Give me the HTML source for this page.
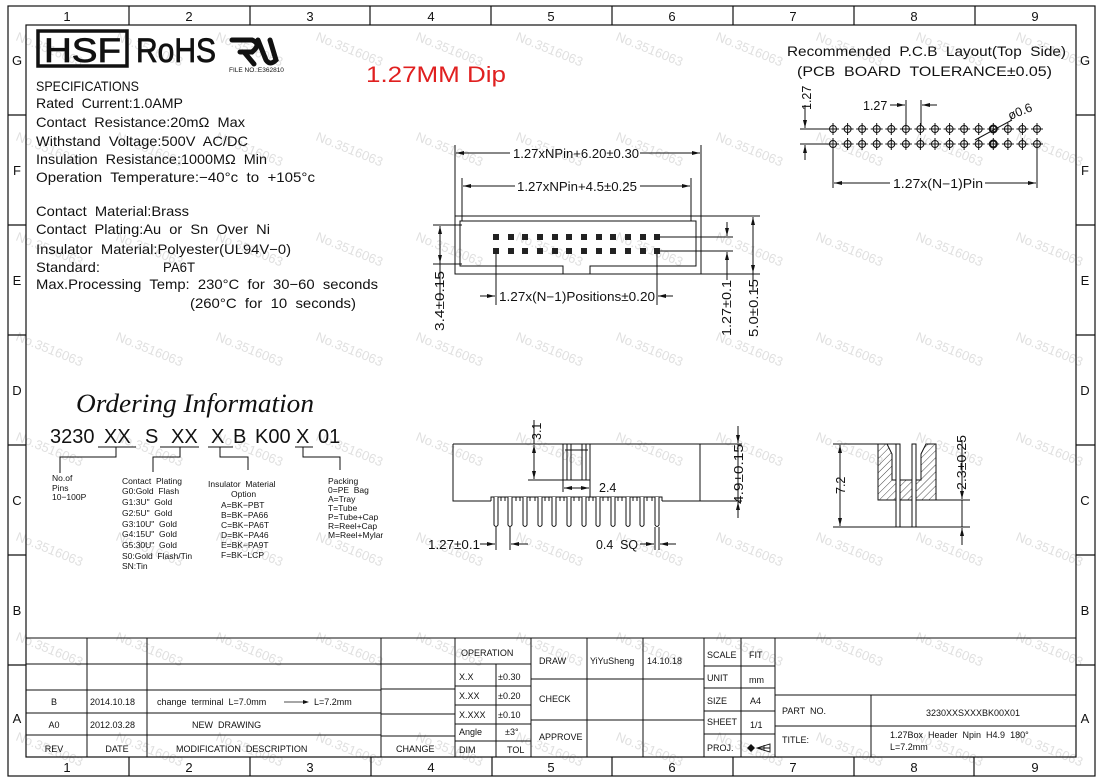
<!DOCTYPE html>
<html><head><meta charset="utf-8"><style>
html,body{margin:0;padding:0;background:#fff;}
svg{display:block;}
text{font-family:"Liberation Sans",sans-serif;fill:#111;white-space:pre;}
.wm{fill:#e0e0e0;font-size:13px;}
.t{font-size:9px;}
</style></head><body>
<svg width="1104" height="784" viewBox="0 0 1104 784" xmlns="http://www.w3.org/2000/svg">
<defs>
<marker id="ar" markerWidth="8" markerHeight="6" refX="8" refY="3" orient="auto" markerUnits="userSpaceOnUse"><path d="M0,1 L8,3 L0,5 Z" fill="#111"/></marker>
<pattern id="hat" width="5" height="5" patternUnits="userSpaceOnUse" patternTransform="rotate(45)"><line x1="0" y1="0" x2="0" y2="5" stroke="#333" stroke-width="0.9"/></pattern>
</defs>

<!-- watermarks -->
<g class="wm">
<text x="15" y="40" class="wm" transform="rotate(22 15 40)">No.3516063</text><text x="115" y="40" class="wm" transform="rotate(22 115 40)">No.3516063</text><text x="215" y="40" class="wm" transform="rotate(22 215 40)">No.3516063</text><text x="315" y="40" class="wm" transform="rotate(22 315 40)">No.3516063</text><text x="415" y="40" class="wm" transform="rotate(22 415 40)">No.3516063</text><text x="515" y="40" class="wm" transform="rotate(22 515 40)">No.3516063</text><text x="615" y="40" class="wm" transform="rotate(22 615 40)">No.3516063</text><text x="715" y="40" class="wm" transform="rotate(22 715 40)">No.3516063</text><text x="815" y="40" class="wm" transform="rotate(22 815 40)">No.3516063</text><text x="915" y="40" class="wm" transform="rotate(22 915 40)">No.3516063</text><text x="1015" y="40" class="wm" transform="rotate(22 1015 40)">No.3516063</text>
<text x="15" y="140" class="wm" transform="rotate(22 15 140)">No.3516063</text><text x="115" y="140" class="wm" transform="rotate(22 115 140)">No.3516063</text><text x="215" y="140" class="wm" transform="rotate(22 215 140)">No.3516063</text><text x="315" y="140" class="wm" transform="rotate(22 315 140)">No.3516063</text><text x="415" y="140" class="wm" transform="rotate(22 415 140)">No.3516063</text><text x="515" y="140" class="wm" transform="rotate(22 515 140)">No.3516063</text><text x="615" y="140" class="wm" transform="rotate(22 615 140)">No.3516063</text><text x="715" y="140" class="wm" transform="rotate(22 715 140)">No.3516063</text><text x="815" y="140" class="wm" transform="rotate(22 815 140)">No.3516063</text><text x="915" y="140" class="wm" transform="rotate(22 915 140)">No.3516063</text><text x="1015" y="140" class="wm" transform="rotate(22 1015 140)">No.3516063</text>
<text x="15" y="240" class="wm" transform="rotate(22 15 240)">No.3516063</text><text x="115" y="240" class="wm" transform="rotate(22 115 240)">No.3516063</text><text x="215" y="240" class="wm" transform="rotate(22 215 240)">No.3516063</text><text x="315" y="240" class="wm" transform="rotate(22 315 240)">No.3516063</text><text x="415" y="240" class="wm" transform="rotate(22 415 240)">No.3516063</text><text x="515" y="240" class="wm" transform="rotate(22 515 240)">No.3516063</text><text x="615" y="240" class="wm" transform="rotate(22 615 240)">No.3516063</text><text x="715" y="240" class="wm" transform="rotate(22 715 240)">No.3516063</text><text x="815" y="240" class="wm" transform="rotate(22 815 240)">No.3516063</text><text x="915" y="240" class="wm" transform="rotate(22 915 240)">No.3516063</text><text x="1015" y="240" class="wm" transform="rotate(22 1015 240)">No.3516063</text>
<text x="15" y="340" class="wm" transform="rotate(22 15 340)">No.3516063</text><text x="115" y="340" class="wm" transform="rotate(22 115 340)">No.3516063</text><text x="215" y="340" class="wm" transform="rotate(22 215 340)">No.3516063</text><text x="315" y="340" class="wm" transform="rotate(22 315 340)">No.3516063</text><text x="415" y="340" class="wm" transform="rotate(22 415 340)">No.3516063</text><text x="515" y="340" class="wm" transform="rotate(22 515 340)">No.3516063</text><text x="615" y="340" class="wm" transform="rotate(22 615 340)">No.3516063</text><text x="715" y="340" class="wm" transform="rotate(22 715 340)">No.3516063</text><text x="815" y="340" class="wm" transform="rotate(22 815 340)">No.3516063</text><text x="915" y="340" class="wm" transform="rotate(22 915 340)">No.3516063</text><text x="1015" y="340" class="wm" transform="rotate(22 1015 340)">No.3516063</text>
<text x="15" y="440" class="wm" transform="rotate(22 15 440)">No.3516063</text><text x="115" y="440" class="wm" transform="rotate(22 115 440)">No.3516063</text><text x="215" y="440" class="wm" transform="rotate(22 215 440)">No.3516063</text><text x="315" y="440" class="wm" transform="rotate(22 315 440)">No.3516063</text><text x="415" y="440" class="wm" transform="rotate(22 415 440)">No.3516063</text><text x="515" y="440" class="wm" transform="rotate(22 515 440)">No.3516063</text><text x="615" y="440" class="wm" transform="rotate(22 615 440)">No.3516063</text><text x="715" y="440" class="wm" transform="rotate(22 715 440)">No.3516063</text><text x="815" y="440" class="wm" transform="rotate(22 815 440)">No.3516063</text><text x="915" y="440" class="wm" transform="rotate(22 915 440)">No.3516063</text><text x="1015" y="440" class="wm" transform="rotate(22 1015 440)">No.3516063</text>
<text x="15" y="540" class="wm" transform="rotate(22 15 540)">No.3516063</text><text x="115" y="540" class="wm" transform="rotate(22 115 540)">No.3516063</text><text x="215" y="540" class="wm" transform="rotate(22 215 540)">No.3516063</text><text x="315" y="540" class="wm" transform="rotate(22 315 540)">No.3516063</text><text x="415" y="540" class="wm" transform="rotate(22 415 540)">No.3516063</text><text x="515" y="540" class="wm" transform="rotate(22 515 540)">No.3516063</text><text x="615" y="540" class="wm" transform="rotate(22 615 540)">No.3516063</text><text x="715" y="540" class="wm" transform="rotate(22 715 540)">No.3516063</text><text x="815" y="540" class="wm" transform="rotate(22 815 540)">No.3516063</text><text x="915" y="540" class="wm" transform="rotate(22 915 540)">No.3516063</text><text x="1015" y="540" class="wm" transform="rotate(22 1015 540)">No.3516063</text>
<text x="15" y="640" class="wm" transform="rotate(22 15 640)">No.3516063</text><text x="115" y="640" class="wm" transform="rotate(22 115 640)">No.3516063</text><text x="215" y="640" class="wm" transform="rotate(22 215 640)">No.3516063</text><text x="315" y="640" class="wm" transform="rotate(22 315 640)">No.3516063</text><text x="415" y="640" class="wm" transform="rotate(22 415 640)">No.3516063</text><text x="515" y="640" class="wm" transform="rotate(22 515 640)">No.3516063</text><text x="615" y="640" class="wm" transform="rotate(22 615 640)">No.3516063</text><text x="715" y="640" class="wm" transform="rotate(22 715 640)">No.3516063</text><text x="815" y="640" class="wm" transform="rotate(22 815 640)">No.3516063</text><text x="915" y="640" class="wm" transform="rotate(22 915 640)">No.3516063</text><text x="1015" y="640" class="wm" transform="rotate(22 1015 640)">No.3516063</text>
<text x="15" y="740" class="wm" transform="rotate(22 15 740)">No.3516063</text><text x="115" y="740" class="wm" transform="rotate(22 115 740)">No.3516063</text><text x="215" y="740" class="wm" transform="rotate(22 215 740)">No.3516063</text><text x="315" y="740" class="wm" transform="rotate(22 315 740)">No.3516063</text><text x="415" y="740" class="wm" transform="rotate(22 415 740)">No.3516063</text><text x="515" y="740" class="wm" transform="rotate(22 515 740)">No.3516063</text><text x="615" y="740" class="wm" transform="rotate(22 615 740)">No.3516063</text><text x="715" y="740" class="wm" transform="rotate(22 715 740)">No.3516063</text><text x="815" y="740" class="wm" transform="rotate(22 815 740)">No.3516063</text><text x="915" y="740" class="wm" transform="rotate(22 915 740)">No.3516063</text><text x="1015" y="740" class="wm" transform="rotate(22 1015 740)">No.3516063</text>
</g>

<!-- frame -->
<g stroke="#111" stroke-width="1.2" fill="none">
<rect x="8" y="6" width="1087" height="770"/>
<rect x="26" y="25" width="1050" height="732"/>
<path d="M129,6V25M250,6V25M370,6V25M491,6V25M612,6V25M733,6V25M854,6V25M975,6V25"/>
<path d="M129,757V776M250,757V776M371,757V776M492,757V776M612,757V776M733,757V776M854,757V776M974,757V776"/>
<path d="M8,115H26M8,225H26M8,335H26M8,445H26M8,555H26M8,665H26"/>
<path d="M1076,115H1095M1076,225H1095M1076,335H1095M1076,445H1095M1076,555H1095M1076,665H1095"/>
</g>
<g font-size="13" text-anchor="middle">
<text x="67" y="21">1</text><text x="189" y="21">2</text><text x="310" y="21">3</text><text x="431" y="21">4</text><text x="551" y="21">5</text><text x="672" y="21">6</text><text x="793" y="21">7</text><text x="914" y="21">8</text><text x="1035" y="21">9</text>
<text x="67" y="772">1</text><text x="189" y="772">2</text><text x="310" y="772">3</text><text x="431" y="772">4</text><text x="551" y="772">5</text><text x="672" y="772">6</text><text x="793" y="772">7</text><text x="914" y="772">8</text><text x="1035" y="772">9</text>
<text x="17" y="65">G</text><text x="17" y="175">F</text><text x="17" y="285">E</text><text x="17" y="395">D</text><text x="17" y="505">C</text><text x="17" y="615">B</text><text x="17" y="723">A</text>
<text x="1085" y="65">G</text><text x="1085" y="175">F</text><text x="1085" y="285">E</text><text x="1085" y="395">D</text><text x="1085" y="505">C</text><text x="1085" y="615">B</text><text x="1085" y="723">A</text>
</g>

<!-- logos -->
<rect x="38" y="31" width="89" height="35" fill="none" stroke="#111" stroke-width="3.5"/>
<text x="44" y="62" font-size="34" textLength="77" lengthAdjust="spacingAndGlyphs" stroke="#111" stroke-width="0.8">HSF</text>
<text x="136" y="62" font-size="34" textLength="80" lengthAdjust="spacingAndGlyphs" stroke="#111" stroke-width="0.8">RoHS</text>
<g stroke="#111" stroke-width="5" fill="none" stroke-linecap="round">
<path d="M232,40 L252,40 Q262,44 252,52 L240,52 M244,52 L254,64 M258,40 L266,60 Q270,66 276,60 L270,40"/>
</g>
<text x="229" y="72" font-size="6.5">FILE NO.:E362810</text>
<text x="366" y="82" font-size="22" fill="#e02020" style="fill:#e02020" textLength="140" lengthAdjust="spacingAndGlyphs">1.27MM Dip</text>

<!-- specs -->
<g font-size="14">
<text x="36" y="91" textLength="103" lengthAdjust="spacingAndGlyphs">SPECIFICATIONS</text>
<text x="36" y="108" textLength="147" lengthAdjust="spacingAndGlyphs">Rated  Current:1.0AMP</text>
<text x="36" y="127" textLength="209" lengthAdjust="spacingAndGlyphs">Contact  Resistance:20mΩ  Max</text>
<text x="36" y="146" textLength="212" lengthAdjust="spacingAndGlyphs">Withstand  Voltage:500V  AC/DC</text>
<text x="36" y="164" textLength="231" lengthAdjust="spacingAndGlyphs">Insulation  Resistance:1000MΩ  Min</text>
<text x="36" y="182" textLength="279" lengthAdjust="spacingAndGlyphs">Operation  Temperature:−40°c  to  +105°c</text>
<text x="36" y="216" textLength="153" lengthAdjust="spacingAndGlyphs">Contact  Material:Brass</text>
<text x="36" y="234" textLength="234" lengthAdjust="spacingAndGlyphs">Contact  Plating:Au  or  Sn  Over  Ni</text>
<text x="36" y="254" textLength="255" lengthAdjust="spacingAndGlyphs">Insulator  Material:Polyester(UL94V−0)</text>
<text x="36" y="272" textLength="64" lengthAdjust="spacingAndGlyphs">Standard:</text>
<text x="163" y="272" textLength="32" lengthAdjust="spacingAndGlyphs">PA6T</text>
<text x="36" y="289" textLength="342" lengthAdjust="spacingAndGlyphs">Max.Processing  Temp:  230°C  for  30−60  seconds</text>
<text x="190" y="308" textLength="166" lengthAdjust="spacingAndGlyphs">(260°C  for  10  seconds)</text>
</g>

<!-- TOP VIEW -->
<g stroke="#111" stroke-width="1" fill="none">
<rect x="455" y="216" width="246" height="58"/>
<path d="M563,274 V266 H460 V221 H696 V266 H590 V274"/>
<path d="M455,145 V216 M701,145 V216 M462,178 V221 M691,178 V221"/>
<line x1="510" y1="153" x2="456" y2="153" marker-end="url(#ar)"/>
<line x1="640" y1="153" x2="700" y2="153" marker-end="url(#ar)"/>
<line x1="515" y1="186" x2="463" y2="186" marker-end="url(#ar)"/>
<line x1="640" y1="186" x2="690" y2="186" marker-end="url(#ar)"/>
<path d="M433,225 H462 M433,264 H462"/>
<line x1="440" y1="245" x2="440" y2="226" marker-end="url(#ar)"/>
<line x1="440" y1="245" x2="440" y2="263" marker-end="url(#ar)"/>
<line x1="440" y1="263" x2="440" y2="300"/>
<path d="M657,237 H733 M657,251 H733"/>
<line x1="727" y1="222" x2="727" y2="236" marker-end="url(#ar)"/>
<line x1="727" y1="268" x2="727" y2="252" marker-end="url(#ar)"/>
<line x1="727" y1="252" x2="727" y2="280"/>
<path d="M701,216 H760 M701,274 H760"/>
<line x1="753" y1="245" x2="753" y2="217" marker-end="url(#ar)"/>
<line x1="753" y1="245" x2="753" y2="273" marker-end="url(#ar)"/>
<line x1="753" y1="273" x2="753" y2="290"/>
<path d="M496,251 V305 M657,251 V305"/>
<line x1="480" y1="296" x2="495" y2="296" marker-end="url(#ar)"/>
<line x1="673" y1="296" x2="658" y2="296" marker-end="url(#ar)"/>
</g>
<g fill="#222">
<rect x="493" y="234" width="6" height="6"/><rect x="508" y="234" width="6" height="6"/><rect x="522" y="234" width="6" height="6"/><rect x="537" y="234" width="6" height="6"/><rect x="552" y="234" width="6" height="6"/><rect x="566" y="234" width="6" height="6"/><rect x="581" y="234" width="6" height="6"/><rect x="596" y="234" width="6" height="6"/><rect x="610" y="234" width="6" height="6"/><rect x="625" y="234" width="6" height="6"/><rect x="640" y="234" width="6" height="6"/><rect x="654" y="234" width="6" height="6"/>
<rect x="493" y="248" width="6" height="6"/><rect x="508" y="248" width="6" height="6"/><rect x="522" y="248" width="6" height="6"/><rect x="537" y="248" width="6" height="6"/><rect x="552" y="248" width="6" height="6"/><rect x="566" y="248" width="6" height="6"/><rect x="581" y="248" width="6" height="6"/><rect x="596" y="248" width="6" height="6"/><rect x="610" y="248" width="6" height="6"/><rect x="625" y="248" width="6" height="6"/><rect x="640" y="248" width="6" height="6"/><rect x="654" y="248" width="6" height="6"/>
</g>
<g font-size="12.5">
<text x="513" y="158" textLength="126" lengthAdjust="spacingAndGlyphs">1.27xNPin+6.20±0.30</text>
<text x="517" y="191" textLength="120" lengthAdjust="spacingAndGlyphs">1.27xNPin+4.5±0.25</text>
<text x="499" y="301" textLength="156" lengthAdjust="spacingAndGlyphs">1.27x(N−1)Positions±0.20</text>
<text transform="translate(444,331) rotate(-90)" textLength="60" lengthAdjust="spacingAndGlyphs">3.4±0.15</text>
<text transform="translate(731,336) rotate(-90)" textLength="56" lengthAdjust="spacingAndGlyphs">1.27±0.1</text>
<text transform="translate(758,337) rotate(-90)" textLength="58" lengthAdjust="spacingAndGlyphs">5.0±0.15</text>
</g>

<!-- FRONT VIEW -->
<g stroke="#111" stroke-width="1" fill="none">
<path d="M453,444 H742 M453,444 V501 H491 M662,501 H700 V444 M700,501 H742"/>
<path d="M491,501 V497 H662 V501"/>
<path d="M563,444 V480 H590 V444 M567,444 V480 M586,444 V480 M571,444 V480 M582,444 V480 M565,450 H588"/>
<path d="M528,480 H563"/>
<line x1="534" y1="462" x2="534" y2="445" marker-end="url(#ar)"/>
<line x1="534" y1="462" x2="534" y2="479" marker-end="url(#ar)"/>
<line x1="534" y1="444" x2="534" y2="420"/>
<path d="M563,480 V492 M590,480 V497"/>
<line x1="576" y1="488" x2="564" y2="488" marker-end="url(#ar)"/>
<line x1="576" y1="488" x2="589" y2="488" marker-end="url(#ar)"/>
<line x1="738" y1="426" x2="738" y2="443" marker-end="url(#ar)"/>
<line x1="738" y1="444" x2="738" y2="501"/>
<line x1="738" y1="518" x2="738" y2="502" marker-end="url(#ar)"/>
<path d="M496,527 V550 M510,527 V550 M655,527 V550 M659,527 V550"/>
<line x1="480" y1="544" x2="495" y2="544" marker-end="url(#ar)"/>
<line x1="528" y1="544" x2="511" y2="544" marker-end="url(#ar)"/>
<line x1="640" y1="544" x2="654" y2="544" marker-end="url(#ar)"/>
<line x1="676" y1="544" x2="660" y2="544" marker-end="url(#ar)"/>
</g>
<g fill="#fff" stroke="#111" stroke-width="1">
<path d="M494,497 V525 Q496,528 498,525 V497"/><path d="M508,497 V525 Q510,528 512,525 V497"/><path d="M523,497 V525 Q525,528 527,525 V497"/><path d="M538,497 V525 Q540,528 542,525 V497"/><path d="M552,497 V525 Q554,528 556,525 V497"/><path d="M567,497 V525 Q569,528 571,525 V497"/><path d="M582,497 V525 Q584,528 586,525 V497"/><path d="M596,497 V525 Q598,528 600,525 V497"/><path d="M611,497 V525 Q613,528 615,525 V497"/><path d="M626,497 V525 Q628,528 630,525 V497"/><path d="M640,497 V525 Q642,528 644,525 V497"/><path d="M655,497 V525 Q657,528 659,525 V497"/>
</g>
<g stroke="#111" stroke-width="1">
<path d="M501,497 V501 M505,497 V501 M516,497 V501 M520,497 V501 M530,497 V501 M535,497 V501 M545,497 V501 M549,497 V501 M560,497 V501 M564,497 V501 M574,497 V501 M579,497 V501 M589,497 V501 M593,497 V501 M603,497 V501 M608,497 V501 M618,497 V501 M622,497 V501 M633,497 V501 M637,497 V501 M647,497 V501 M652,497 V501"/>
</g>
<g font-size="12.5">
<text transform="translate(541,440) rotate(-90)">3.1</text>
<text x="599" y="492">2.4</text>
<text transform="translate(743,504) rotate(-90)" textLength="60" lengthAdjust="spacingAndGlyphs">4.9±0.15</text>
<text x="428" y="549" textLength="52" lengthAdjust="spacingAndGlyphs">1.27±0.1</text>
<text x="596" y="549" textLength="42" lengthAdjust="spacingAndGlyphs">0.4  SQ</text>
</g>

<!-- SIDE VIEW -->
<path d="M878,444 L878,500 L936,500 L936,444 L926,444 L921,454 L921,480 L892,480 L892,454 L887,444 Z" fill="url(#hat)" stroke="#111" stroke-width="1"/>
<g stroke="#111" stroke-width="1" fill="#fff">
<rect x="896" y="444" width="4" height="83"/><rect x="912" y="444" width="4" height="83"/>
</g>
<g stroke="#111" stroke-width="1" fill="none">
<path d="M833,444 H896 M833,527 H970 M936,500 H970"/>
<line x1="840" y1="485" x2="840" y2="445" marker-end="url(#ar)"/>
<line x1="840" y1="485" x2="840" y2="526" marker-end="url(#ar)"/>
<line x1="962" y1="482" x2="962" y2="499" marker-end="url(#ar)"/>
<line x1="962" y1="500" x2="962" y2="527"/>
<line x1="962" y1="545" x2="962" y2="528" marker-end="url(#ar)"/>
<line x1="962" y1="440" x2="962" y2="482"/>
</g>
<g font-size="12.5">
<text transform="translate(845,494) rotate(-90)">7.2</text>
<text transform="translate(966,490) rotate(-90)" textLength="55" lengthAdjust="spacingAndGlyphs">2.3±0.25</text>
</g>

<!-- PCB LAYOUT -->
<g font-size="14">
<text x="787" y="56" textLength="279" lengthAdjust="spacingAndGlyphs">Recommended  P.C.B  Layout(Top  Side)</text>
<text x="797" y="76" textLength="255" lengthAdjust="spacingAndGlyphs">(PCB  BOARD  TOLERANCE±0.05)</text>
</g>
<g stroke="#111" stroke-width="1" fill="none">
<path d="M800,129 H830 M800,144 H830"/>
<line x1="805" y1="112" x2="805" y2="128" marker-end="url(#ar)"/>
<line x1="805" y1="160" x2="805" y2="145" marker-end="url(#ar)"/>
<line x1="805" y1="112" x2="805" y2="105"/>
<path d="M906,100 V126 M921,100 V126"/>
<line x1="890" y1="105" x2="905" y2="105" marker-end="url(#ar)"/>
<line x1="937" y1="105" x2="922" y2="105" marker-end="url(#ar)"/>
<path d="M975,140 L1012,120"/>
<path d="M833,148 V188 M1037,148 V188"/>
<line x1="890" y1="183" x2="834" y2="183" marker-end="url(#ar)"/>
<line x1="985" y1="183" x2="1036" y2="183" marker-end="url(#ar)"/>
</g>
<g stroke="#111" stroke-width="1" fill="none">
<g transform="translate(833,0)"><circle cy="129" r="3.5"/><circle cy="144" r="3.5"/><path d="M-6,129H6M0,123V135M-6,144H6M0,138V150"/></g>
<g transform="translate(847.6,0)"><circle cy="129" r="3.5"/><circle cy="144" r="3.5"/><path d="M-6,129H6M0,123V135M-6,144H6M0,138V150"/></g>
<g transform="translate(862.1,0)"><circle cy="129" r="3.5"/><circle cy="144" r="3.5"/><path d="M-6,129H6M0,123V135M-6,144H6M0,138V150"/></g>
<g transform="translate(876.7,0)"><circle cy="129" r="3.5"/><circle cy="144" r="3.5"/><path d="M-6,129H6M0,123V135M-6,144H6M0,138V150"/></g>
<g transform="translate(891.3,0)"><circle cy="129" r="3.5"/><circle cy="144" r="3.5"/><path d="M-6,129H6M0,123V135M-6,144H6M0,138V150"/></g>
<g transform="translate(905.9,0)"><circle cy="129" r="3.5"/><circle cy="144" r="3.5"/><path d="M-6,129H6M0,123V135M-6,144H6M0,138V150"/></g>
<g transform="translate(920.4,0)"><circle cy="129" r="3.5"/><circle cy="144" r="3.5"/><path d="M-6,129H6M0,123V135M-6,144H6M0,138V150"/></g>
<g transform="translate(935,0)"><circle cy="129" r="3.5"/><circle cy="144" r="3.5"/><path d="M-6,129H6M0,123V135M-6,144H6M0,138V150"/></g>
<g transform="translate(949.6,0)"><circle cy="129" r="3.5"/><circle cy="144" r="3.5"/><path d="M-6,129H6M0,123V135M-6,144H6M0,138V150"/></g>
<g transform="translate(964.1,0)"><circle cy="129" r="3.5"/><circle cy="144" r="3.5"/><path d="M-6,129H6M0,123V135M-6,144H6M0,138V150"/></g>
<g transform="translate(978.7,0)"><circle cy="129" r="3.5"/><circle cy="144" r="3.5"/><path d="M-6,129H6M0,123V135M-6,144H6M0,138V150"/></g>
<g transform="translate(993.3,0)"><circle cy="129" r="3.5" stroke-width="2"/><circle cy="144" r="3.5" stroke-width="2"/><path d="M-6,129H6M0,123V135M-6,144H6M0,138V150"/></g>
<g transform="translate(1007.9,0)"><circle cy="129" r="3.5"/><circle cy="144" r="3.5"/><path d="M-6,129H6M0,123V135M-6,144H6M0,138V150"/></g>
<g transform="translate(1022.4,0)"><circle cy="129" r="3.5"/><circle cy="144" r="3.5"/><path d="M-6,129H6M0,123V135M-6,144H6M0,138V150"/></g>
<g transform="translate(1037,0)"><circle cy="129" r="3.5"/><circle cy="144" r="3.5"/><path d="M-6,129H6M0,123V135M-6,144H6M0,138V150"/></g>
</g>
<g font-size="12.5">
<text transform="translate(811,110) rotate(-90)">1.27</text>
<text x="863" y="110">1.27</text>
<text x="1010" y="120" transform="rotate(-22 1010 120)">ø0.6</text>
<text x="893" y="188" textLength="90" lengthAdjust="spacingAndGlyphs">1.27x(N−1)Pin</text>
</g>

<!-- ORDERING -->
<text x="76" y="412" font-family="Liberation Serif" style="font-family:'Liberation Serif',serif;font-style:italic" font-size="26" textLength="238" lengthAdjust="spacingAndGlyphs">Ordering Information</text>
<g font-size="20">
<text x="50" y="443">3230</text><text x="104" y="443">XX</text><text x="145" y="443">S</text><text x="171" y="443">XX</text><text x="211" y="443">X</text><text x="233" y="443">B</text><text x="255" y="443">K00</text><text x="296" y="443">X</text><text x="318" y="443">01</text>
</g>
<g stroke="#111" stroke-width="1" fill="none">
<path d="M98,447 H136 M160,447 H199 M208,447 H233 M295,447 H313"/>
<path d="M116,447 V457 H60 V473 M180,447 V457 H153 V472 M220,447 V457 H248 V470 M303,447 V457 H340 V470"/>
</g>
<g font-size="8.5">
<text x="52" y="481">No.of</text><text x="52" y="491">Pins</text><text x="52" y="500">10−100P</text>
<text x="122" y="484">Contact  Plating</text>
<text x="122" y="494">G0:Gold  Flash</text>
<text x="122" y="505">G1:3U"  Gold</text>
<text x="122" y="516">G2:5U"  Gold</text>
<text x="122" y="527">G3:10U"  Gold</text>
<text x="122" y="537">G4:15U"  Gold</text>
<text x="122" y="548">G5:30U"  Gold</text>
<text x="122" y="559">S0:Gold  Flash/Tin</text>
<text x="122" y="569">SN:Tin</text>
<text x="208" y="487">Insulator  Material</text>
<text x="231" y="497">Option</text>
<text x="221" y="508">A=BK−PBT</text>
<text x="221" y="518">B=BK−PA66</text>
<text x="221" y="528">C=BK−PA6T</text>
<text x="221" y="538">D=BK−PA46</text>
<text x="221" y="548">E=BK−PA9T</text>
<text x="221" y="558">F=BK−LCP</text>
<text x="328" y="484">Packing</text>
<text x="328" y="493">0=PE  Bag</text>
<text x="328" y="502">A=Tray</text>
<text x="328" y="511">T=Tube</text>
<text x="328" y="520">P=Tube+Cap</text>
<text x="328" y="529">R=Reel+Cap</text>
<text x="328" y="538">M=Reel+Mylar</text>
</g>

<!-- TITLE BLOCK -->
<g stroke="#111" stroke-width="1" fill="none">
<path d="M26,638 H1076"/>
<path d="M87,638 V757 M147,638 V757 M381,638 V757 M455,638 V757 M496,664 V757 M531,638 V757 M587,638 V757 M643,638 V757 M704,638 V757 M741,638 V757 M775,638 V757"/>
<path d="M26,664 H381 M26,690 H381 M26,713 H381 M26,735 H381"/>
<path d="M381,664 H455 M381,689 H455 M381,714 H455 M381,736 H455"/>
<path d="M455,664 H531 M455,686 H531 M455,705 H531 M455,724 H531 M455,741 H531"/>
<path d="M531,679 H704 M531,720 H704"/>
<path d="M704,666 H775 M704,688 H775 M704,711 H775 M704,734 H775"/>
<path d="M775,695 H1076 M775,726 H1076 M871,695 V757"/>
</g>
<g class="t">
<text x="54" y="705" text-anchor="middle">B</text>
<text x="54" y="728" text-anchor="middle">A0</text>
<text x="54" y="752" text-anchor="middle">REV</text>
<text x="90" y="705">2014.10.18</text>
<text x="90" y="728">2012.03.28</text>
<text x="117" y="752" text-anchor="middle">DATE</text>
<text x="157" y="705">change  terminal  L=7.0mm</text>
<text x="314" y="705">L=7.2mm</text>
<text x="192" y="728">NEW  DRAWING</text>
<text x="176" y="752">MODIFICATION  DESCRIPTION</text>
<text x="396" y="752">CHANGE</text>
<text x="461" y="656">OPERATION</text>
<text x="459" y="680">X.X</text><text x="498" y="680">±0.30</text>
<text x="459" y="699">X.XX</text><text x="498" y="699">±0.20</text>
<text x="459" y="718">X.XXX</text><text x="498" y="718">±0.10</text>
<text x="459" y="735">Angle</text><text x="505" y="735">±3°</text>
<text x="459" y="753">DIM</text><text x="507" y="753">TOL</text>
<text x="539" y="664">DRAW</text>
<text x="539" y="702">CHECK</text>
<text x="539" y="740">APPROVE</text>
<text x="590" y="664">YiYuSheng</text>
<text x="647" y="664">14.10.18</text>
<text x="707" y="658">SCALE</text><text x="749" y="658">FIT</text>
<text x="707" y="681">UNIT</text><text x="749" y="683">mm</text>
<text x="707" y="704">SIZE</text><text x="750" y="704">A4</text>
<text x="707" y="725">SHEET</text><text x="750" y="728">1/1</text>
<text x="707" y="751">PROJ.</text>
<text x="782" y="714">PART  NO.</text>
<text x="973" y="716" text-anchor="middle">3230XXSXXXBK00X01</text>
<text x="782" y="743">TITLE:</text>
<text x="890" y="738">1.27Box  Header  Npin  H4.9  180°</text>
<text x="890" y="750">L=7.2mm</text>
</g>
<path d="M284,702 H303" stroke="#111" stroke-width="0.8"/><path d="M303,700 L309,702 L303,704Z" fill="#111"/>
<path d="M747,748 L751,744 L755,748 L751,752 Z" fill="#111"/>
<path d="M757,748 L770,744 V752 Z M757,748 H770 M764,745 V751" fill="none" stroke="#111" stroke-width="0.9"/>
</svg>
</body></html>
